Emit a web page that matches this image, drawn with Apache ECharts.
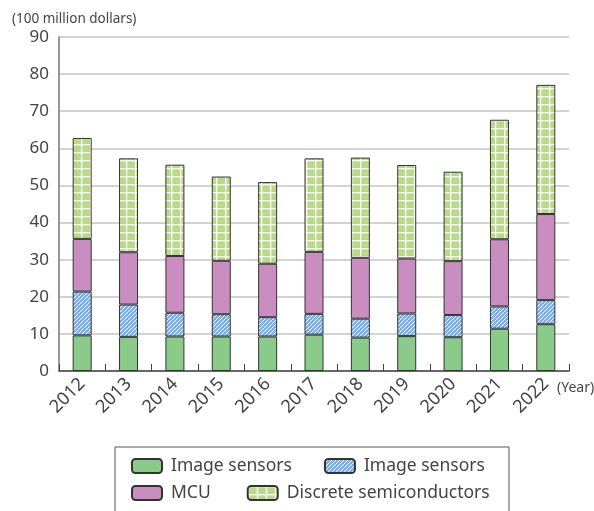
<!DOCTYPE html>
<html>
<head>
<meta charset="utf-8">
<script src="https://cdn.jsdelivr.net/npm/echarts@6/dist/echarts.min.js"></script>
<style>
  html, body { margin: 0; padding: 0; background: #fff; }
  #chart { width: 594px; height: 511px; }
</style>
</head>
<body>
<div id="chart"></div>
<script>
var years = ['2012', '2013', '2014', '2015', '2016', '2017', '2018', '2019', '2020', '2021', '2022'];
var imageSensorsA = [9.6, 9.2, 9.3, 9.3, 9.3, 9.8, 9.0, 9.4, 9.1, 11.4, 12.6];
var imageSensorsB = [11.8, 8.7, 6.4, 6.0, 5.2, 5.6, 5.1, 6.1, 6.0, 6.0, 6.5];
var mcu = [14.2, 14.1, 15.3, 14.4, 14.4, 16.7, 16.4, 14.8, 14.5, 18.1, 23.2];
var discrete = [27.2, 25.3, 24.6, 22.7, 22.0, 25.2, 27.0, 25.2, 24.1, 32.2, 34.8];

var font = '"Noto Sans", "Open Sans", sans-serif';
var txt = '#444';

// stripe pattern for the second image sensor series
function hatch() {
    var c = document.createElement('canvas');
    c.width = 4; c.height = 4;
    var g = c.getContext('2d');
    g.fillStyle = '#7ab0e2';
    g.fillRect(0, 0, 4, 4);
    g.strokeStyle = '#ffffff';
    g.lineWidth = 1;
    g.beginPath();
    g.moveTo(-1, 5); g.lineTo(5, -1);
    g.moveTo(-1, 1); g.lineTo(1, -1);
    g.moveTo(3, 5); g.lineTo(5, 3);
    g.stroke();
    return c;
}

// white grid pattern for discrete semiconductors
function gridPat() {
    var c = document.createElement('canvas');
    c.width = 9; c.height = 8;
    var g = c.getContext('2d');
    g.fillStyle = '#b8da8a';
    g.fillRect(0, 0, 9, 8);
    g.fillStyle = '#ffffff';
    g.fillRect(0, 0, 1.3, 8);
    g.fillRect(0, 0, 9, 1.3);
    return c;
}

function bar(name, data, color) {
    return {
        name: name,
        type: 'bar',
        stack: 'total',
        barWidth: 19,
        data: data,
        itemStyle: { color: color, borderColor: '#333', borderWidth: 1 }
    };
}

var legendText = { fontSize: 17.5, color: txt, padding: [0, 0, 0, 4] };

var chart = echarts.init(document.getElementById('chart'));
chart.setOption({
    animation: false,
    textStyle: { fontFamily: font },
    title: [
        { text: '(100 million dollars)', left: 7, top: 7,
          textStyle: { fontSize: 13.5, fontWeight: 'normal', color: txt, fontFamily: font } },
        { text: '(Year)', left: 552, top: 376,
          textStyle: { fontSize: 14, fontWeight: 'normal', color: txt, fontFamily: font } }
    ],
    grid: { left: 59, right: 25, top: 37, bottom: 140 },
    xAxis: {
        type: 'category',
        data: years,
        axisLine: { lineStyle: { color: '#444', width: 1.5 } },
        axisTick: { show: true, inside: true, length: 7, lineStyle: { color: '#444' } },
        axisLabel: { rotate: 45, fontSize: 18, color: txt, margin: 10 }
    },
    yAxis: {
        type: 'value',
        min: 0, max: 90, interval: 10,
        axisLine: { show: true, lineStyle: { color: '#777', width: 1.5 } },
        axisTick: { show: false },
        axisLabel: { fontSize: 17, color: txt, margin: 10 },
        splitLine: { lineStyle: { color: '#c4c4c4', width: 1.5 } }
    },
    legend: [
        { data: ['Image sensors', 'Image sensors '], left: 131, top: 457, padding: 0,
          itemWidth: 30, itemHeight: 14, itemGap: 32, textStyle: legendText },
        { data: ['MCU', 'Discrete semiconductors'], left: 131, top: 484, padding: 0,
          itemWidth: 30, itemHeight: 14, itemGap: 36, textStyle: legendText }
    ],
    graphic: [{
        type: 'rect',
        shape: { x: 115, y: 447, width: 394, height: 80 },
        style: { fill: 'none', stroke: '#555', lineWidth: 1 },
        silent: true
    }],
    series: [
        bar('Image sensors', imageSensorsA, '#8bcb8a'),
        bar('Image sensors ', imageSensorsB, { image: hatch(), repeat: 'repeat' }),
        bar('MCU', mcu, '#c98dc0'),
        bar('Discrete semiconductors', discrete, { image: gridPat(), repeat: 'repeat' })
    ]
});
</script>
</body>
</html>
